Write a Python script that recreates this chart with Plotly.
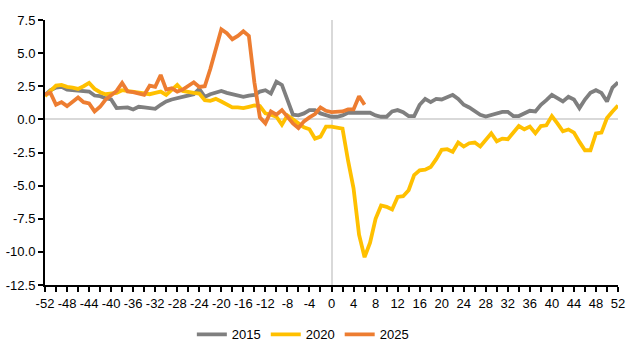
import plotly.graph_objects as go

weeks = list(range(-52, 53))

series_2015 = [
    1.85, 2.2, 2.4, 2.45, 2.25, 2.2, 2.2, 2.15, 2.1, 1.8,
    1.75, 1.6, 1.5, 0.85, 0.9, 0.9, 0.75, 0.95, 0.9, 0.85,
    0.8, 1.1, 1.35, 1.5, 1.6, 1.75, 1.8, 1.9, 2.3, 1.7,
    1.9, 2.0, 2.15, 2.0, 1.9, 1.75, 1.7, 1.8, 1.85, 2.1,
    2.2, 1.95, 2.85, 2.6, 1.5, 0.35, 0.3, 0.45, 0.7, 0.7,
    0.45, 0.3,
    0.2, 0.2, 0.3, 0.5, 0.5, 0.5, 0.45, 0.5, 0.3, 0.2,
    0.2, 0.6, 0.7, 0.55, 0.25, 0.25, 1.1, 1.55, 1.3, 1.55,
    1.5, 1.65, 1.85, 1.55, 1.1, 0.9, 0.65, 0.35, 0.22, 0.35,
    0.5, 0.57, 0.57, 0.25, 0.25, 0.45, 0.65, 0.6, 1.1, 1.45,
    1.85, 1.6, 1.35, 1.7, 1.5, 0.85, 1.5, 2.0, 2.2, 2.0,
    1.35, 2.4, 2.8,
]

series_2020 = [
    1.75, 2.2, 2.55, 2.6, 2.45, 2.4, 2.3, 2.5, 2.75, 2.3,
    2.05, 1.9, 1.95, 2.0, 2.2, 2.15, 2.1, 2.0, 1.95, 1.9,
    2.0, 2.1, 1.85, 2.2, 2.6, 2.15, 2.05, 2.0, 1.95, 1.45,
    1.4, 1.55, 1.35, 1.1, 0.9, 0.9, 0.85, 0.95, 1.05, 1.0,
    0.45, 0.35, 0.2, -0.4, 0.3, 0.0, -0.3, -0.6, -0.75, -1.45,
    -1.3, -0.55,
    -0.55, -0.65, -0.7, -3.1, -5.2, -8.7, -10.4, -9.3, -7.5, -6.5,
    -6.6, -6.8, -5.85, -5.8, -5.35, -4.2, -3.85, -3.8, -3.6, -3.0,
    -2.3, -2.25, -2.45, -1.75, -2.05, -1.8, -1.75, -2.05, -1.6, -1.05,
    -1.65, -1.45, -1.5, -1.0, -0.5, -0.75, -0.55, -1.05, -0.5, -0.45,
    0.25, -0.3, -0.9, -0.76, -1.0, -1.7, -2.33, -2.33, -1.06, -1.0,
    0.1, 0.6, 1.05,
]

# 2025 runs only up to week 6
series_2025 = [
    1.9, 2.0, 1.1, 1.3, 1.0, 1.3, 1.65, 1.3, 1.2, 0.6,
    0.95, 1.5, 1.8, 2.15, 2.75, 2.1, 2.05, 1.95, 1.85, 2.55,
    2.45, 3.35, 2.25, 2.35, 2.1, 2.25, 2.5, 2.8, 2.45, 2.5,
    3.8, 5.3, 6.8, 6.5, 6.05, 6.3, 6.65, 6.3, 2.8, 0.15,
    -0.3, 0.6, 0.35, 0.7, 0.2, -0.3, -0.65, -0.15, 0.15, 0.4,
    0.9, 0.65,
    0.55, 0.55, 0.6, 0.75, 0.75, 1.75, 1.1,
]

series_names = ["2015", "2020", "2025"]
series_colors = ["#7F7F7F", "#FFC000", "#ED7D31"]

x_ticks = list(range(-52, 53, 4))
x_ticktext = [str(v) for v in x_ticks]
y_ticks = [7.5, 5.0, 2.5, 0.0, -2.5, -5.0, -7.5, -10.0, -12.5]
y_ticktext = [f"{v:.1f}" for v in y_ticks]

fig = go.Figure()
for name, color, values in zip(series_names, series_colors,
                               [series_2015, series_2020, series_2025]):
    fig.add_trace(go.Scatter(
        x=weeks[:len(values)], y=values, name=name, mode="lines",
        line=dict(color=color, width=3.8),
    ))

font = dict(family="Liberation Sans, Arial, sans-serif", size=12, color="#000000")

fig.update_layout(
    width=638, height=345,
    margin=dict(l=45, r=20, t=20, b=60, autoexpand=False),
    paper_bgcolor="white", plot_bgcolor="white",
    font=font,
    showlegend=True,
    legend=dict(orientation="h", x=0.45, xanchor="center",
                y=-0.13, yanchor="top",
                font=dict(size=13), traceorder="normal"),
    xaxis=dict(
        range=[-52, 52], tickmode="array", tickvals=x_ticks, ticktext=x_ticktext,
        ticks="outside", ticklen=5, tickwidth=1.5, tickcolor="black",
        minor=dict(dtick=2, tick0=0, ticks="outside", ticklen=5, tickwidth=1.5,
                   tickcolor="black"),
        showline=True, linecolor="black", linewidth=2,
        showgrid=False, zeroline=True, zerolinecolor="#D9D9D9", zerolinewidth=2,
        tickfont=dict(size=13),
    ),
    yaxis=dict(
        range=[-12.5, 7.5], tickmode="array", tickvals=y_ticks, ticktext=y_ticktext,
        ticks="outside", ticklen=5, tickwidth=1.5, tickcolor="black",
        showline=True, linecolor="black", linewidth=2,
        showgrid=False, zeroline=True, zerolinecolor="#D9D9D9", zerolinewidth=2,
        tickfont=dict(size=13),
    ),
)

fig.write_html("out.html")
